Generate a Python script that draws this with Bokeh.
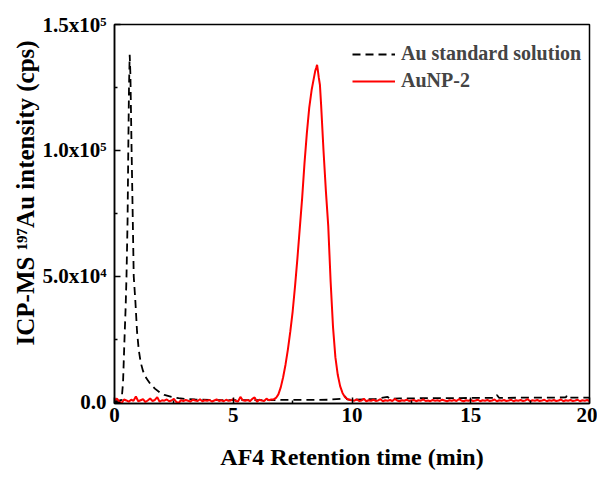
import numpy as np
from bokeh.plotting import figure
from bokeh.models import Range1d, FixedTicker, Legend, LegendItem, Title
from bokeh.embed import file_html
from bokeh.resources import INLINE

# ---------------- data ----------------
# Au standard solution (black dashed): retention time (min), intensity (cps)
std_t = [0.00, 0.10, 0.20, 0.30, 0.36, 0.42, 0.47, 0.505, 0.55, 0.58, 0.61, 0.64,
         0.67, 0.70, 0.72, 0.76, 0.81, 0.88, 0.95, 1.02, 1.10, 1.20, 1.35, 1.50,
         1.70, 1.90, 2.10, 2.40, 2.70, 3.00, 3.40, 4.00, 5.00, 6.00, 7.00, 8.00,
         9.00, 9.60, 9.70, 9.80, 10.00, 11.00, 11.50, 11.60, 12.00, 13.00, 14.00,
         15.00, 16.00, 16.10, 16.20, 17.00, 18.00, 19.00, 19.05, 19.10, 20.00]
std_i = [600, 500, 700, 1000, 8000, 25000, 38000, 50000, 72000, 100000, 125000, 138000,
         130000, 112000, 100000, 78000, 50000, 40000, 28000, 21000, 16000, 12500, 9500, 7500,
         5500, 4000, 3000, 2200, 1700, 1400, 1200, 1000, 900, 900, 1000, 1000,
         1100, 1500, 2500, 1200, 1100, 1400, 2200, 1500, 1600, 1700, 1700,
         1800, 1800, 3000, 1800, 1900, 1900, 2000, 2800, 1900, 1900]

# AuNP-2 (red): baseline before the peak, sampled every 0.1 min from 0.0 min
np_base1 = [900, 1500, 400, -200, 1200, 800, 300, 1100, 700, 2400, 500, 900, 1300, 200,
            800, 1600, 600, 1000, 2100, 300, 900, 700, 1200, 500, 800, 1400, 200, -200,
            900, 600, 1000, 700, 400, 1100, 800, 600, 1300, 500, 900, 700, 1000, 400,
            800, 1200, 600, 900, 500, 1100, 700, 800, 1300, 600, 400, 2200, 900, 700,
            1000, 500, 1400, 2000, 300, 1100, 800, 600, 1500, 900, 1200]
# AuNP-2 peak region
np_peak_t = [6.7, 6.8, 6.9, 7.0, 7.1, 7.2, 7.3, 7.4, 7.5, 7.6, 7.7, 7.8, 7.9, 8.0, 8.1,
             8.2, 8.3, 8.4, 8.45, 8.5, 8.53, 8.56, 8.6, 8.65, 8.7, 8.8, 8.9, 9.0, 9.1,
             9.2, 9.3, 9.4, 9.5, 9.6, 9.7, 9.8, 9.9]
np_peak_i = [1200, 1800, 3200, 6000, 10000, 15000, 21000, 28000, 36000, 46000, 57000,
             69000, 81000, 95000, 107000, 117000, 124000, 129000, 131500, 133000, 134000,
             132000, 129000, 126000, 118000, 100000, 84000, 70000, 48000, 30000, 18000,
             11000, 6500, 3800, 2200, 1400, 1000]
# AuNP-2 baseline after the peak, sampled every 0.1 min from 10.0 min
np_base2 = [900, 700, 1200, 600, 800, 1500, 500, 900, 700, 1100, 600, 800, 1300, 500,
            900, 700, 1000, 600, 1400, 800, 500, 900, 700, 1100, 600, 800, 1000, 500,
            900, 700, 1200, 600, 800, 500, 1000, 700, 900, 600, 1100, 800, 500, 900,
            700, 1000, 600, 1300, 800, 500, 900, 700, 1000, 600, 800, 1100, 500, 900,
            700, 1000, 600, 800, 1200, 500, 900, 700, 1000, 600, 800, 1100, 500, 900,
            700, 1000, 600, 800, 1300, 500, 900, 700, 1000, 600, 800, 1100, 500, 900,
            700, 1000, 600, 800, 1200, 500, 900, 700, 1000, 600, 800, 1100, 500, 900,
            700, 1000, 600]

x_ticks = [0, 5, 10, 15, 20]
y_ticks = [0, 50000, 100000, 150000]
y_tick_labels = ["0.0", "5.0x10\u2074", "1.0x10\u2075", "1.5x10\u2075"]

legend_labels = ["Au standard solution", "AuNP-2"]
x_title = "AF4 Retention time (min)"
y_title = "ICP-MS \u00b9\u2079\u2077Au intensity (cps)"

# assemble red series
np_t = ([round(i * 0.1, 2) for i in range(len(np_base1))] + np_peak_t +
        [round(10.0 + i * 0.1, 2) for i in range(len(np_base2))])
np_i = np_base1 + np_peak_i + np_base2

FONT = "Liberation Serif"

p = figure(width=597, height=472, output_backend="svg", toolbar_location=None,
           x_range=Range1d(0, 20), y_range=Range1d(-400, 150000),
           min_border_left=114, min_border_right=8, min_border_top=24,
           min_border_bottom=66)
p.background_fill_color = "white"
p.border_fill_color = "white"
p.grid.visible = False
p.outline_line_color = "black"
p.outline_line_width = 1.5
p.outline_line_alpha = 1.0

r_std = p.line(std_t, std_i, line_color="black", line_width=1.8, line_dash="8 5")
r_np = p.line(np_t, np_i, line_color="#ff0000", line_width=2)

# axes
xa = p.xaxis[0]
ya = p.yaxis[0]
xa.ticker = FixedTicker(ticks=x_ticks, minor_ticks=[2.5, 7.5, 12.5, 17.5])
ya.ticker = FixedTicker(ticks=y_ticks, minor_ticks=[25000, 75000, 125000])
ya.major_label_overrides = {float(v): s for v, s in zip(y_ticks, y_tick_labels)}
xa.axis_label = x_title
for ax in (xa, ya):
    ax.axis_line_color = "black"
    ax.axis_line_width = 1.5
    ax.major_tick_in = 6
    ax.major_tick_out = 0
    ax.minor_tick_in = 3
    ax.minor_tick_out = 0
    ax.major_tick_line_width = 1.5
    ax.minor_tick_line_width = 1.5
    ax.major_tick_line_color = "black"
    ax.minor_tick_line_color = "black"
    ax.major_label_text_font = FONT
    ax.major_label_text_font_style = "bold"
    ax.major_label_text_font_size = "21px"
    ax.major_label_text_color = "black"
    ax.axis_label_text_font = FONT
    ax.axis_label_text_font_style = "bold"
    ax.axis_label_text_font_size = "24px"
    ax.axis_label_text_color = "black"
xa.major_label_standoff = 4
xa.axis_label_standoff = 19
ya.major_label_standoff = 8
ya.major_label_orientation = "horizontal"

# y-axis title as a left-side title so it can sit off-centre like the reference
ytitle = Title(text=y_title, align="left", offset=58, vertical_align="middle",
               standoff=0, text_font=FONT, text_font_style="bold",
               text_font_size="25px", text_color="black")
p.add_layout(ytitle, "left")

legend = Legend(items=[LegendItem(label=legend_labels[0], renderers=[r_std]),
                       LegendItem(label=legend_labels[1], renderers=[r_np])],
                location=(238, 311))
legend.border_line_color = None
legend.background_fill_alpha = 0.0
legend.label_text_font = FONT
legend.label_text_font_style = "bold"
legend.label_text_font_size = "20px"
legend.glyph_width = 43
legend.glyph_height = 20
legend.label_height = 20
legend.label_standoff = 6
legend.spacing = 4
legend.padding = 6
legend.margin = 0
p.add_layout(legend)

open("out.html", "w").write(file_html(p, INLINE))
